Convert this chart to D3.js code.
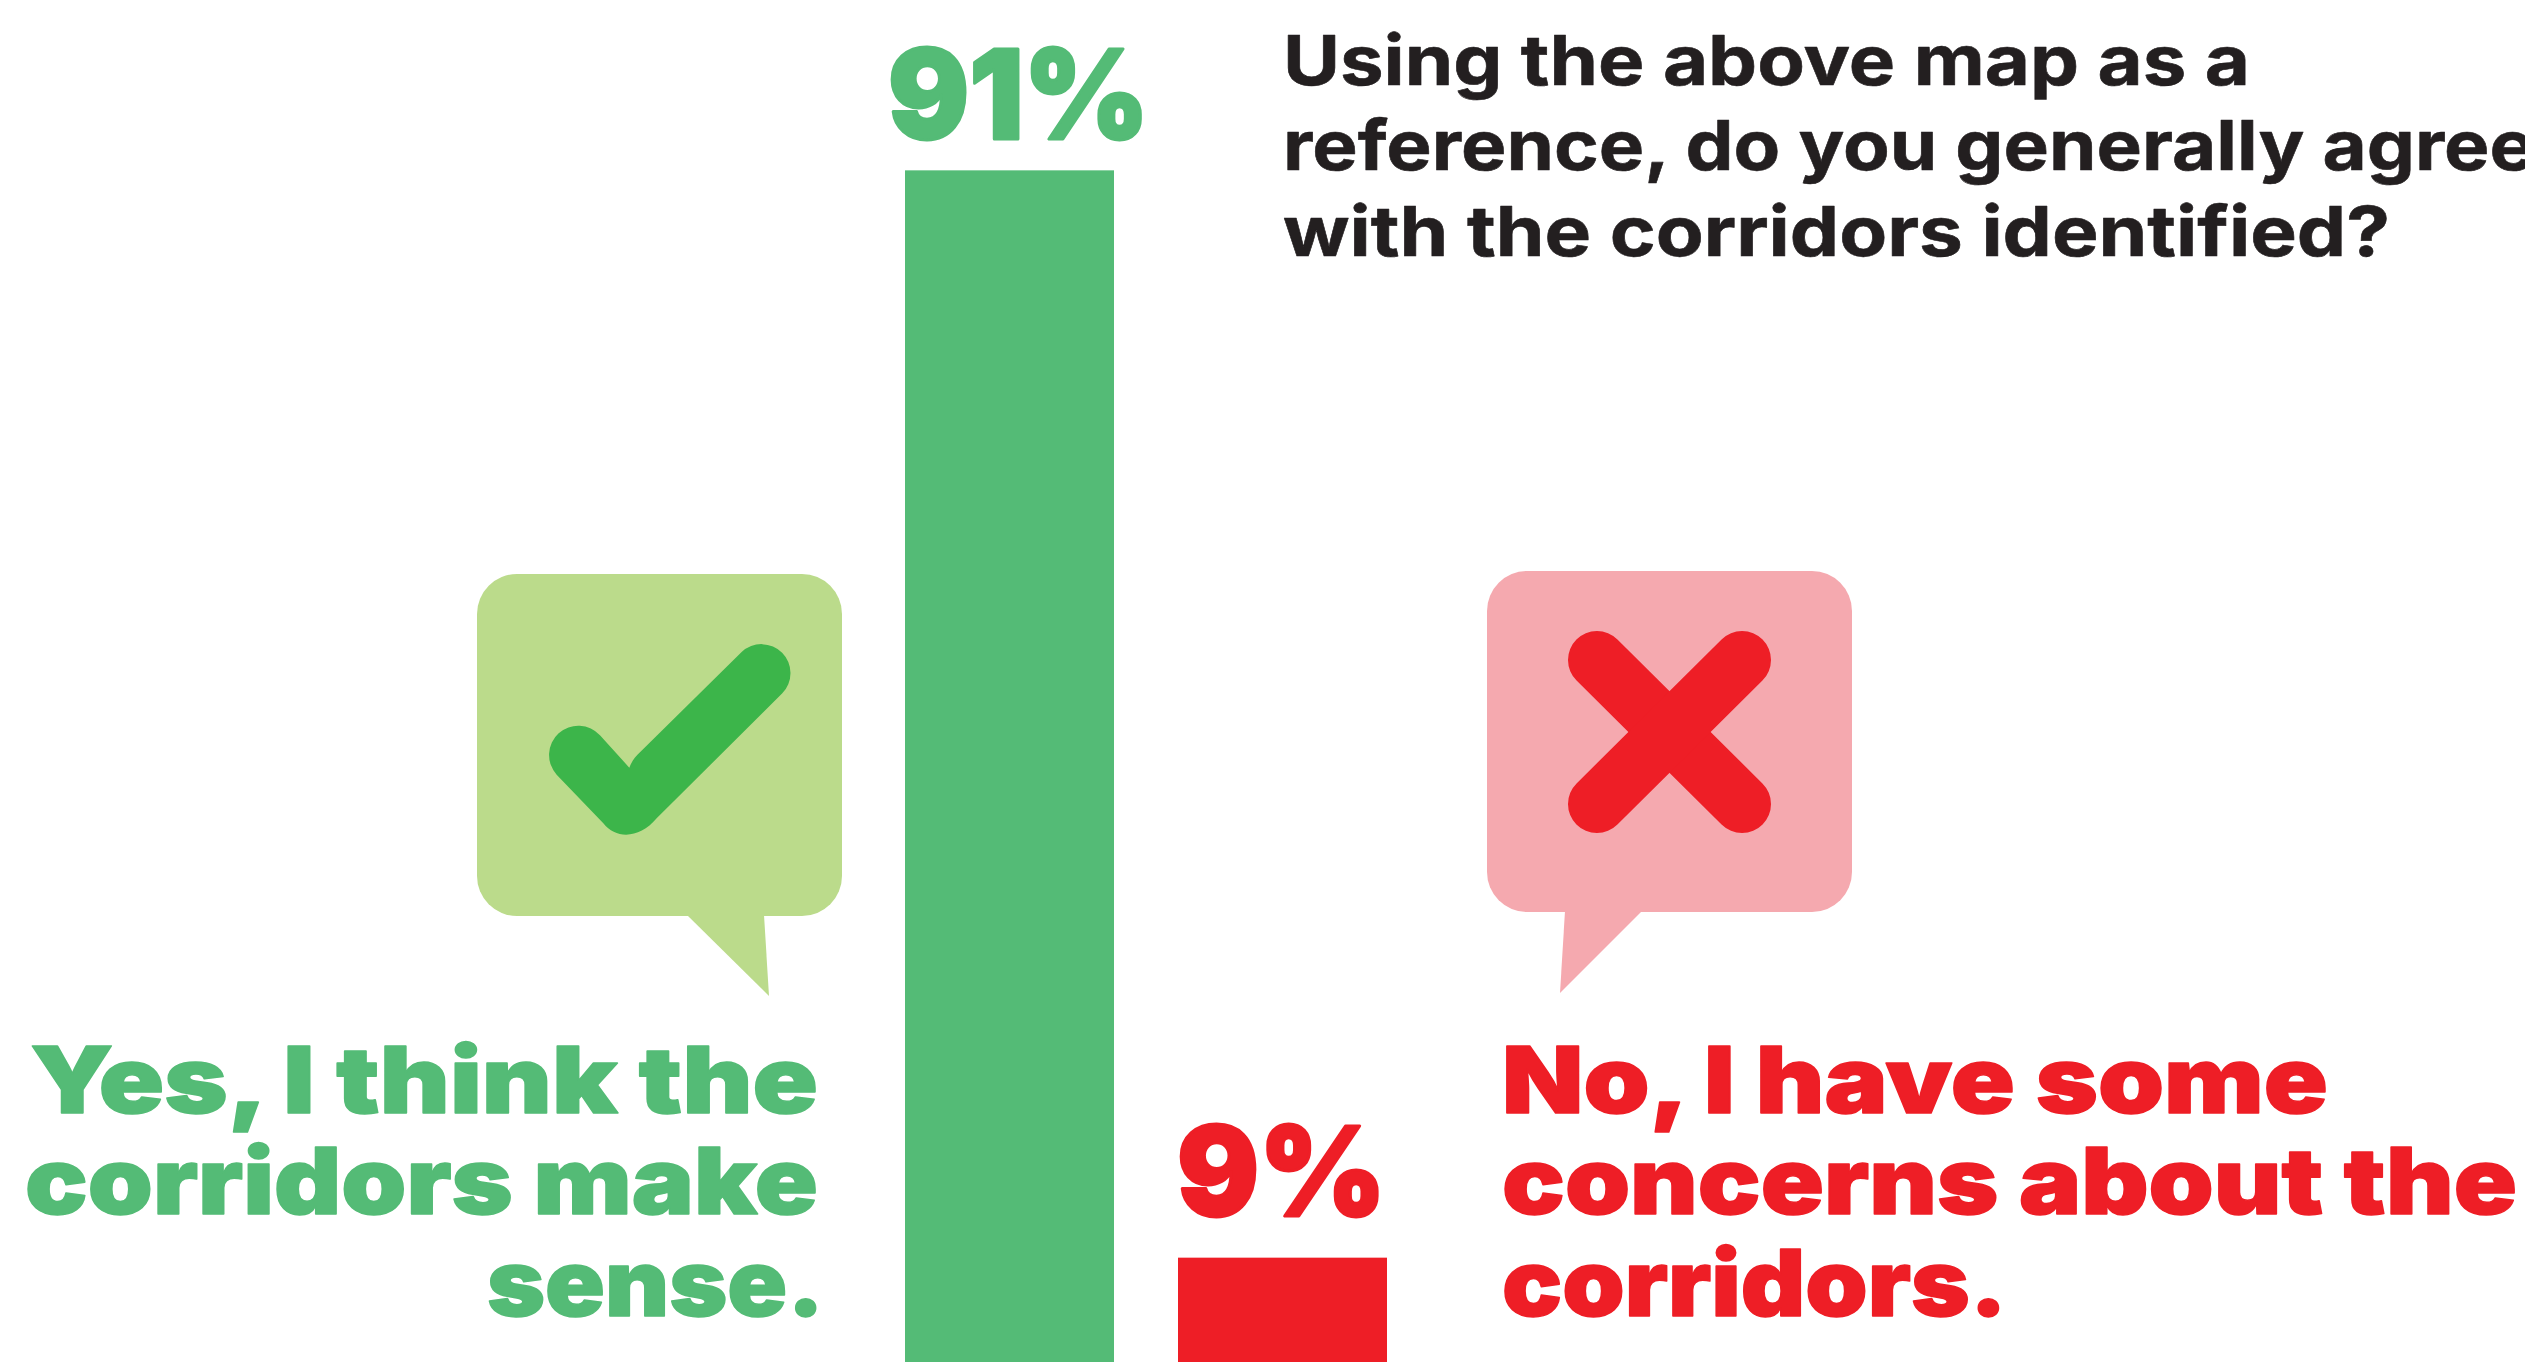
<!DOCTYPE html>
<html>
<head>
<meta charset="utf-8">
<script src="https://cdn.jsdelivr.net/npm/d3@7"></script>
<style>
  html, body { margin: 0; padding: 0; background: #fff; overflow: hidden; }
  svg { display: block; }
</style>
</head>
<body>
<script>
// Survey results
const categories = ["Yes", "No"];
const shares = [91, 9];
const shareLabels = ["91%", "9%"];
const question = ["Using the above map as a", "reference, do you generally agree", "with the corridors identified?"];
const yesLabel = ["Yes, I think the", "corridors make", "sense."];
const noLabel = ["No, I have some", "concerns about the", "corridors."];

const W = 2525, H = 1362;
const GREEN = "#54BB76", RED = "#EE1E26", INK = "#231F20";

const svg = d3.select("body").append("svg").attr("width", W).attr("height", H);

// The bars sit on a baseline just below the visible area
const y = d3.scaleLinear().domain([0, 100]).range([1377, 51]);
const x = d3.scaleBand().domain(categories).range([873, 1419]).paddingInner(64 / 273).paddingOuter(32 / 273);
const colour = d3.scaleOrdinal().domain(categories).range([GREEN, RED]);

svg.selectAll("rect.bar").data(categories).join("rect")
  .attr("class", "bar")
  .attr("x", d => x(d))
  .attr("width", x.bandwidth())
  .attr("y", (d, i) => y(shares[i]))
  .attr("height", (d, i) => y(0) - y(shares[i]))
  .attr("fill", d => colour(d));

// Fit a line of text between two x positions, optionally thickened with a stroke
function fitted(g, s, x0, x1, base, size, weight, fill, thicken) {
  g.append("text")
    .attr("x", x0).attr("y", base)
    .attr("textLength", x1 - x0).attr("lengthAdjust", "spacingAndGlyphs")
    .attr("font-family", "Inter, sans-serif")
    .attr("font-size", size).attr("font-weight", weight)
    .attr("fill", fill)
    .attr("stroke", thicken ? fill : "none")
    .attr("stroke-width", thicken || 0)
    .attr("stroke-linejoin", "round")
    .text(s);
}

const labels = svg.append("g");
fitted(labels, shareLabels[0], 888, 1149, 139, 124, 900, GREEN, 3);
fitted(labels, shareLabels[1], 1177, 1386, 1216, 124, 900, RED, 3);

const qBase = [85, 170, 256], qEnd = [2250, 2535, 2390];
question.forEach((s, i) => fitted(labels, s, 1283, qEnd[i], qBase[i], 69, 700, INK, 0.6));

const lBase = [1113, 1214, 1316];
const yesStart = [30, 25, 487], yesEnd = [818, 818, 824], noEnd = [2328, 2517, 2007];
yesLabel.forEach((s, i) => fitted(labels, s, yesStart[i], yesEnd[i], lBase[i], 92, 900, GREEN, 1.5));
noLabel.forEach((s, i) => fitted(labels, s, 1502, noEnd[i], lBase[i], 92, 900, RED, 1.5));

// Speech bubbles with their tails
function bubble(x0, y0, w, h, tail, fill) {
  const g = svg.append("g");
  g.append("rect").attr("x", x0).attr("y", y0).attr("width", w).attr("height", h).attr("rx", 40).attr("fill", fill);
  g.append("path").attr("d", d3.line()(tail)).attr("fill", fill);
}
bubble(477, 574, 365, 342, [[687, 915], [769, 996], [764, 915]], "#BBDB8B");
bubble(1487, 571, 365, 341, [[1565, 911], [1560, 993], [1642, 911]], "#F5A9AF");

// Tick mark outline, with its small notch at the inner corner
svg.append("path")
  .attr("transform", "translate(440,540) scale(0.3333)")
  .attr("fill", "#3CB54A")
  .attr("d", "M568 683C575 665 585 650 600 637L905 336A87 87 0 0 1 1027 460L650 835C600 895 530 900 490 850L350 704A85 85 0 0 1 480 586Z");

// Cross drawn as two thick round-capped strokes
const stroke = (d, c) => svg.append("path").attr("d", d3.line()(d))
  .attr("fill", "none").attr("stroke", c).attr("stroke-width", 58)
  .attr("stroke-linecap", "round");
stroke([[1597, 660], [1742, 804]], RED);
stroke([[1742, 660], [1597, 804]], RED);
</script>
</body>
</html>
